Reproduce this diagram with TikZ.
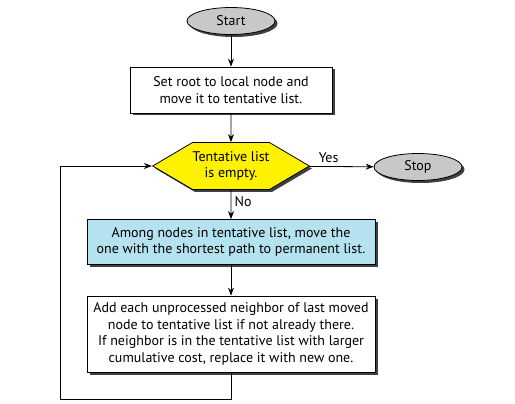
\documentclass[tikz,border=0pt]{standalone}
\usepackage{fontspec}
\setmainfont{PT Sans}
\usepackage{tikz}
\usetikzlibrary{
    arrows.meta,
    shapes,
    shapes.symbols,
    shadows,
    positioning
}
\definecolor{termgray}{RGB}{200,200,200}
\definecolor{stepblue}{RGB}{180,226,238}
\tikzset{
    shade3/.style={drop shadow={shadow xshift=2.5pt, shadow yshift=-2.5pt, fill=black!75, opacity=1}},
    term/.style={draw, thick, ellipse, fill=termgray, shade3, minimum width=88pt, minimum height=27pt, inner sep=0pt},
    stepbox/.style={draw, thick, fill=white, shade3, align=center, inner sep=0pt},
    test/.style={draw, thick, signal, signal to=east and west, signal pointer angle=61, fill=yellow, shade3, align=center, minimum width=156pt, minimum height=47pt, inner sep=0pt},
    flow/.style={thick, -{Stealth[length=8pt, width=6pt]}}
}
\begin{document}
\begin{tikzpicture}[x=1pt, y=-1pt, font=\fontsize{14}{16.7}\selectfont]
                        \useasboundingbox (0, 0) rectangle (515, 404);
                        \node[term] (start) at (231, 21) {Start};
                        \node[stepbox, minimum width=202pt, minimum height=46pt] (init) at (231, 90) {Set root to local node and\\move it to tentative list.};
                        \node[test] (empty) at (231, 166) {Tentative list\\is empty.};
                        \node[term] (stop) at (418, 167) {Stop};
                        \node[stepbox, fill=stepblue, minimum width=288pt, minimum height=45pt] (move) at (231, 242) {Among nodes in tentative list, move the\\one with the shortest path to permanent list.};
                        \node[stepbox, minimum width=288pt, minimum height=76pt] (update) at (231, 334) {Add each unprocessed neighbor of last moved\\node to tentative list if not already there.\\If neighbor is in the tentative list with larger\\cumulative cost, replace it with new one.};
                        \coordinate (back) at (60, 399);

                        \draw[flow] (start) -- (init);
                        \draw[flow] (init) -- (empty);
                        \draw[flow] (empty) -- node[above, pos=0.3] {Yes} (stop);
                        \draw[flow] (empty) -- node[right, pos=0.4] {No} (move);
                        \draw[flow] (move) -- (update);
                        \draw[flow] (update.south) |- (back) |- (empty.west);
                    \end{tikzpicture}
\end{document}
